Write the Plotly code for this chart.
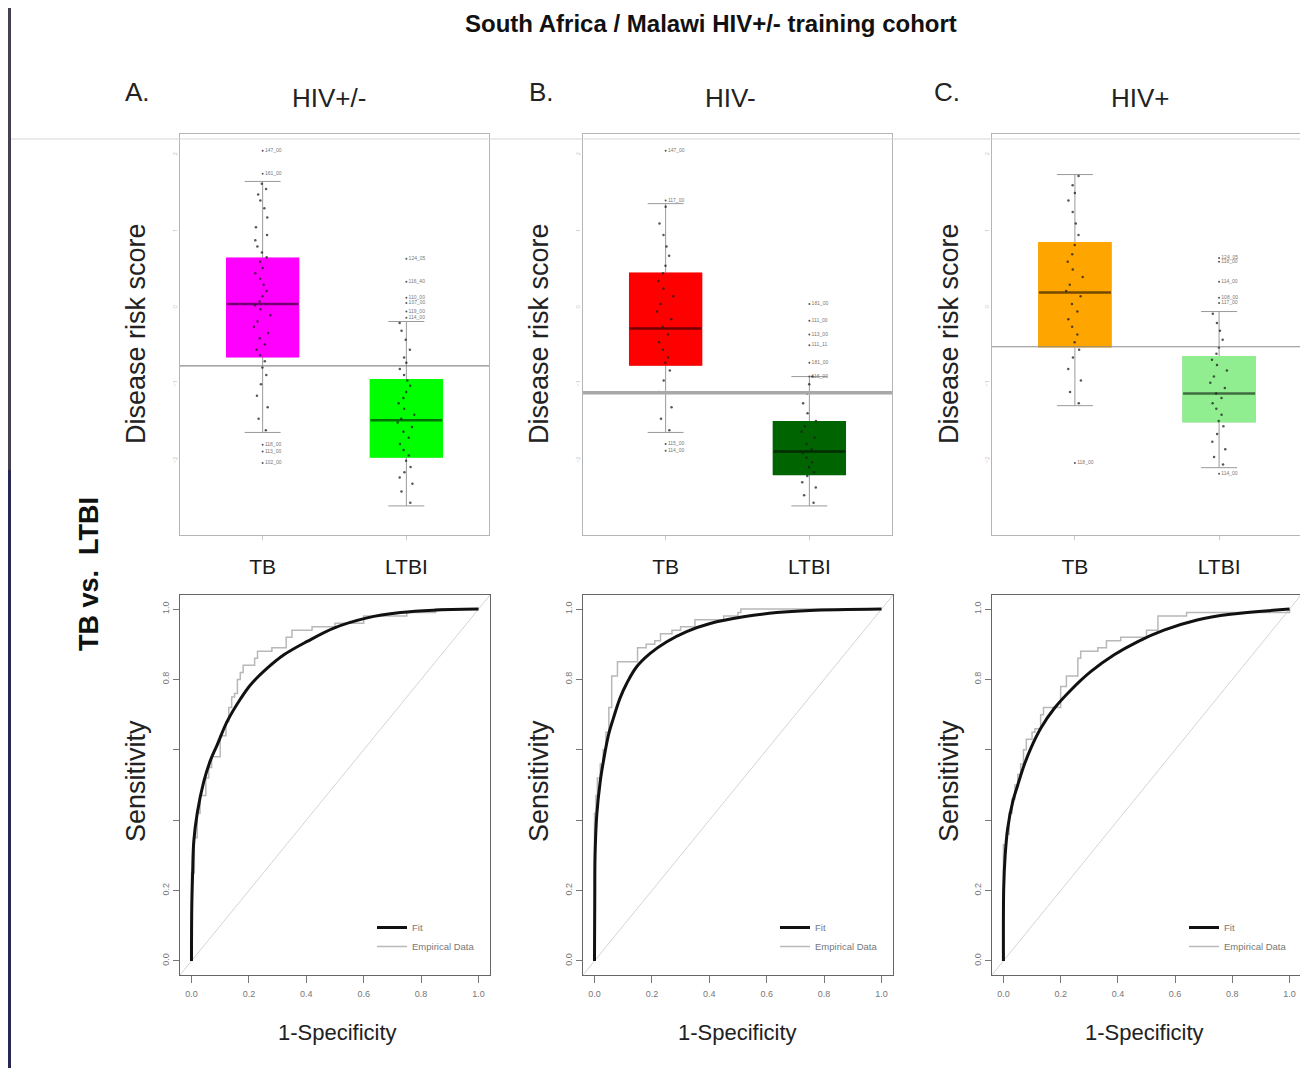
import plotly.graph_objects as go
from plotly.subplots import make_subplots

FONT = "Liberation Sans, Arial, sans-serif"

panel_letters = ["A.", "B.", "C."]
panel_titles = ["HIV+/-", "HIV-", "HIV+"]
groups = ["TB", "LTBI"]
group_pos = [1, 2]
box_colors = [["#FF00FF", "#00FF00"], ["#FF0000", "#006400"], ["#FFA500", "#90EE90"]]

# box stats per panel, [TB, LTBI]
q1 = [[-0.64, -1.95], [-0.75, -2.18], [-0.51, -1.49]]
medians = [[0.05, -1.47], [-0.27, -1.88], [0.20, -1.12]]
q3 = [[0.645, -0.94], [0.45, -1.49], [0.85, -0.64]]
lower_whisker = [[-1.63, -2.59], [-1.63, -2.59], [-1.28, -2.09]]
upper_whisker = [[1.65, -0.18], [1.36, -0.90], [1.74, -0.05]]
thresholds = [-0.76, -1.11, -0.51]

# individual scores (strip points) per panel, [TB, LTBI]
scores = [
    [[1.62, 1.55, 1.48, 1.40, 1.30, 1.18, 1.05, 0.95, 0.88, 0.80, 0.72, 0.66, 0.60, 0.52,
      0.45, 0.38, 0.30, 0.22, 0.15, 0.08, 0.03, -0.02, -0.10, -0.18, -0.25, -0.33, -0.40,
      -0.48, -0.55, -0.62, -0.70, -0.78, -0.88, -1.00, -1.15, -1.30, -1.45, -1.60],
     [-0.20, -0.30, -0.42, -0.55, -0.65, -0.72, -0.80, -0.88, -0.95, -1.02, -1.10, -1.18,
      -1.25, -1.32, -1.40, -1.45, -1.50, -1.56, -1.62, -1.70, -1.78, -1.86, -1.93, -2.00,
      -2.08, -2.15, -2.22, -2.30, -2.40, -2.55]],
    [[1.32, 1.10, 0.95, 0.80, 0.68, 0.55, 0.45, 0.35, 0.25, 0.15, 0.05, -0.05, -0.15, -0.25,
      -0.35, -0.45, -0.55, -0.65, -0.72, -0.82, -0.95, -1.10, -1.30, -1.45, -1.60],
     [-0.90, -1.00, -1.12, -1.25, -1.38, -1.48, -1.55, -1.62, -1.70, -1.78, -1.85, -1.90,
      -1.96, -2.02, -2.08, -2.15, -2.20, -2.28, -2.35, -2.45, -2.55]],
    [[1.72, 1.60, 1.50, 1.40, 1.25, 1.10, 0.95, 0.82, 0.70, 0.60, 0.50, 0.40, 0.30, 0.22,
      0.15, 0.05, -0.05, -0.15, -0.25, -0.35, -0.45, -0.55, -0.65, -0.80, -0.95, -1.10, -1.25],
     [-0.08, -0.20, -0.30, -0.42, -0.52, -0.60, -0.68, -0.75, -0.82, -0.90, -0.98, -1.05,
      -1.12, -1.18, -1.25, -1.32, -1.40, -1.48, -1.55, -1.65, -1.75, -1.85, -1.95, -2.05]],
]

outliers = [
    [[2.05, 1.75, -1.79, -1.88, -2.03], [0.64, 0.34, 0.13, 0.06, -0.05, -0.13]],
    [[2.05, 1.40, -1.78, -1.87], [0.05, -0.17, -0.35, -0.49, -0.72, -0.90]],
    [[-2.03], [0.65, 0.60, 0.34, 0.13, 0.06, -2.17]],
]
outlier_ids = [
    [["147_00", "161_00", "118_00", "113_00", "102_00"],
     ["124_05", "116_40", "110_00", "107_00", "119_00", "114_00"]],
    [["147_00", "117_00", "115_00", "114_00"],
     ["181_00", "111_00", "113_00", "111_11", "181_00", "116_00"]],
    [["118_00"],
     ["124_05", "118_00", "114_00", "108_00", "117_00", "114_00"]],
]

# ROC curves: binormal fit and empirical data
fit_fpr = [
    [0, 0.001, 0.004, 0.008, 0.02, 0.043, 0.066, 0.09, 0.124, 0.171, 0.206, 0.264, 0.322,
     0.403, 0.496, 0.612, 0.728, 0.843, 1.0],
    [0, 0.001, 0.002, 0.008, 0.02, 0.031, 0.049, 0.066, 0.089, 0.113, 0.147, 0.194, 0.252,
     0.321, 0.403, 0.519, 0.635, 0.75, 1.0],
    [0, 0.001, 0.006, 0.015, 0.033, 0.05, 0.073, 0.096, 0.131, 0.178, 0.236, 0.305, 0.387,
     0.468, 0.561, 0.677, 0.793, 1.0],
]
fit_tpr = [
    [0, 0.15, 0.25, 0.34, 0.42, 0.51, 0.57, 0.615, 0.68, 0.745, 0.785, 0.832, 0.87, 0.908,
     0.946, 0.975, 0.99, 0.997, 1.0],
    [0, 0.18, 0.30, 0.416, 0.51, 0.567, 0.643, 0.69, 0.747, 0.79, 0.836, 0.874, 0.907, 0.936,
     0.959, 0.978, 0.99, 0.996, 1.0],
    [0, 0.208, 0.30, 0.378, 0.454, 0.50, 0.558, 0.605, 0.662, 0.718, 0.77, 0.822, 0.87, 0.907,
     0.94, 0.969, 0.985, 1.0],
]
emp_fpr = [
    [0, 0, 0.01, 0.02, 0.03, 0.05, 0.06, 0.07, 0.10, 0.12, 0.13, 0.14, 0.15, 0.16, 0.17, 0.18,
     0.20, 0.22, 0.23, 0.26, 0.28, 0.32, 0.33, 0.35, 0.42, 0.50, 0.60, 0.75, 0.85, 1.0],
    [0, 0, 0.005, 0.01, 0.02, 0.03, 0.04, 0.05, 0.06, 0.075, 0.08, 0.13, 0.15, 0.17, 0.18,
     0.21, 0.23, 0.27, 0.30, 0.35, 0.45, 0.50, 0.51, 1.0],
    [0, 0, 0.01, 0.02, 0.03, 0.04, 0.05, 0.06, 0.07, 0.08, 0.10, 0.11, 0.13, 0.14, 0.17, 0.20,
     0.22, 0.25, 0.26, 0.27, 0.33, 0.36, 0.41, 0.50, 0.54, 0.64, 0.75, 1.0],
]
emp_tpr = [
    [0, 0.25, 0.35, 0.42, 0.47, 0.52, 0.55, 0.58, 0.64, 0.68, 0.72, 0.75, 0.76, 0.80, 0.82,
     0.84, 0.84, 0.86, 0.88, 0.88, 0.89, 0.89, 0.92, 0.94, 0.95, 0.96, 0.98, 0.99, 1.0, 1.0],
    [0, 0.42, 0.47, 0.52, 0.56, 0.60, 0.65, 0.72, 0.81, 0.81, 0.85, 0.85, 0.89, 0.89, 0.90,
     0.91, 0.93, 0.94, 0.95, 0.97, 0.98, 0.99, 1.0, 1.0],
    [0, 0.33, 0.36, 0.42, 0.46, 0.50, 0.53, 0.56, 0.60, 0.63, 0.65, 0.66, 0.70, 0.72, 0.72,
     0.78, 0.81, 0.81, 0.86, 0.88, 0.89, 0.91, 0.92, 0.94, 0.98, 0.99, 0.99, 1.0],
]
roc_ticks = [0, 0.2, 0.4, 0.6, 0.8, 1.0]
roc_x_labels = ["0.0", "0.2", "0.4", "0.6", "0.8", "1.0"]
roc_y_labels = ["0.0", "0.2", "", "", "0.8", "1.0"]
box_ticks = [-2, -1, 0, 1, 2]

# the page body adds an 8px margin, so the figure is 8px smaller than the window
W, H = 1300, 1060
OFF = 8
BOX_RANGE = [-2.97, 2.27]
BOX_XRANGE = [0.425, 2.575]
ROC_RANGE = [-0.04, 1.04]


def px(x):
    return (x - OFF) / W


def py(y):
    return 1 - (y - OFF) / H


def add_boxes(fig, p):
    col = p + 1
    for g in range(2):
        pos = group_pos[g]
        fill = box_colors[p][g]
        # whiskers
        fig.add_trace(go.Box(x=[pos], q1=[q1[p][g]], median=[medians[p][g]], q3=[q3[p][g]],
                             lowerfence=[lower_whisker[p][g]], upperfence=[upper_whisker[p][g]],
                             orientation="v", width=0.5, whiskerwidth=0.5, fillcolor=fill,
                             line=dict(color="#9a9a9a", width=1), showlegend=False,
                             hoverinfo="skip"), row=1, col=col)
        # box body
        fig.add_trace(go.Box(x=[pos], q1=[q1[p][g]], median=[medians[p][g]], q3=[q3[p][g]],
                             lowerfence=[q1[p][g]], upperfence=[q3[p][g]],
                             orientation="v", width=0.5, whiskerwidth=0, fillcolor=fill,
                             line=dict(color=fill, width=1.5), showlegend=False,
                             hoverinfo="skip"), row=1, col=col)
        # median
        m = medians[p][g]
        fig.add_trace(go.Box(x=[pos], q1=[m], median=[m], q3=[m], lowerfence=[m], upperfence=[m],
                             orientation="v", width=0.5, whiskerwidth=0,
                             fillcolor="rgba(0,0,0,0)",
                             line=dict(color="rgba(0,0,0,0.55)", width=2.5), showlegend=False,
                             hoverinfo="skip"), row=1, col=col)
        # individual points
        fig.add_trace(go.Box(x=[pos] * len(scores[p][g]), y=scores[p][g], orientation="v",
                             boxpoints="all", jitter=0.25, pointpos=0, width=0.5,
                             fillcolor="rgba(0,0,0,0)", line=dict(color="rgba(0,0,0,0)", width=0),
                             marker=dict(color="rgba(30,30,30,0.75)", size=2.5),
                             showlegend=False, hoverinfo="skip"), row=1, col=col)
        # outliers with sample labels
        fig.add_trace(go.Scatter(x=[pos] * len(outliers[p][g]), y=outliers[p][g],
                                 mode="markers+text", text=outlier_ids[p][g],
                                 textposition="middle right",
                                 textfont=dict(size=5, color="#777", family=FONT),
                                 marker=dict(size=2, color="#555"),
                                 showlegend=False, hoverinfo="skip"), row=1, col=col)
    # cut-off line
    fig.add_trace(go.Scatter(x=BOX_XRANGE, y=[thresholds[p]] * 2, mode="lines",
                             line=dict(color="#8c8c8c" if p != 1 else "#a8a8a8",
                                       width=1.2 if p != 1 else 3.5),
                             showlegend=False, hoverinfo="skip"), row=1, col=col)


def add_roc(fig, p):
    col = p + 1
    legend_name = "legend" if p == 0 else "legend%d" % (p + 1)
    fig.add_trace(go.Scatter(x=ROC_RANGE, y=ROC_RANGE, mode="lines",
                             line=dict(color="#d4d4d4", width=1), showlegend=False,
                             hoverinfo="skip"), row=2, col=col)
    fig.add_trace(go.Scatter(x=emp_fpr[p], y=emp_tpr[p], mode="lines", line_shape="hv",
                             line=dict(color="#b8b8b8", width=1.5), name="Empirical Data",
                             legend=legend_name, legendrank=2), row=2, col=col)
    fig.add_trace(go.Scatter(x=fit_fpr[p], y=fit_tpr[p], mode="lines", line_shape="spline",
                             line=dict(color="#111", width=3), name="Fit",
                             legend=legend_name, legendrank=1), row=2, col=col)


def generate_figure():
    fig = make_subplots(rows=2, cols=3)

    box_x_domains = [[px(180), px(489)], [px(583), px(892)], [px(992), px(1302)]]
    roc_x_domains = [[px(180), px(490)], [px(583), px(893)], [px(992), px(1301)]]

    for p in range(3):
        add_boxes(fig, p)
        add_roc(fig, p)

        fig.update_xaxes(domain=box_x_domains[p], range=BOX_XRANGE, tickvals=group_pos,
                         ticktext=groups, ticks="outside", ticklen=4, tickcolor="#c8c8c8",
                         ticklabelstandoff=9,
                         tickfont=dict(family=FONT, size=21, color="#1a1a1a"),
                         showline=True, mirror=True, linecolor="#b5b5b5", linewidth=1,
                         showgrid=False, zeroline=False, row=1, col=p + 1)
        fig.update_yaxes(domain=[py(535), py(134)], range=BOX_RANGE, tickvals=box_ticks,
                         ticks="", tickangle=-90, tickfont=dict(size=6, color="#bbb"),
                         showline=True, mirror=True, linecolor="#b5b5b5", linewidth=1,
                         showgrid=False, zeroline=False, row=1, col=p + 1)
        fig.update_xaxes(domain=roc_x_domains[p], range=ROC_RANGE, tickvals=roc_ticks,
                         ticktext=roc_x_labels, ticks="outside", ticklen=7, tickcolor="#777",
                         ticklabelstandoff=3,
                         tickfont=dict(family=FONT, size=9, color="#777"),
                         showline=True, mirror=True, linecolor="#666", linewidth=1.2,
                         showgrid=False, zeroline=False, row=2, col=p + 1)
        fig.update_yaxes(domain=[py(975), py(595)], range=ROC_RANGE, tickvals=roc_ticks,
                         ticktext=roc_y_labels, ticks="outside", ticklen=6, tickcolor="#777",
                         tickangle=-90, tickfont=dict(family=FONT, size=9, color="#777"),
                         showline=True, mirror=True, linecolor="#666", linewidth=1.2,
                         showgrid=False, zeroline=False, row=2, col=p + 1)

    annotations = [dict(text="<b>South Africa / Malawi HIV+/- training cohort</b>",
                        x=px(711), y=py(24), font=dict(family=FONT, size=24, color="#111")),
                   dict(text="<b>TB vs.  LTBI</b>", x=px(89), y=py(574), textangle=-90,
                        font=dict(family=FONT, size=27, color="#111"))]
    letter_x = [137, 541, 947]
    title_x = [329, 731, 1140]
    ylab_x = [136, 539, 949]
    roc_center_x = [337, 737, 1144]
    for p in range(3):
        annotations.append(dict(text=panel_letters[p], x=px(letter_x[p]), y=py(92),
                                font=dict(family=FONT, size=26, color="#222")))
        annotations.append(dict(text=panel_titles[p], x=px(title_x[p]), y=py(98),
                                font=dict(family=FONT, size=26, color="#222")))
        annotations.append(dict(text="Disease risk score", x=px(ylab_x[p]), y=py(334),
                                textangle=-90, font=dict(family=FONT, size=27, color="#222")))
        annotations.append(dict(text="Sensitivity", x=px(ylab_x[p]), y=py(781), textangle=-90,
                                font=dict(family=FONT, size=27, color="#222")))
        annotations.append(dict(text="1-Specificity", x=px(roc_center_x[p]), y=py(1032),
                                font=dict(family=FONT, size=22, color="#222")))
    for a in annotations:
        a.update(xref="paper", yref="paper", showarrow=False, xanchor="center", yanchor="middle")

    legend_style = dict(xanchor="left", yanchor="top", bgcolor="rgba(0,0,0,0)",
                        font=dict(family=FONT, size=9.5, color="#777"), itemwidth=30,
                        tracegroupgap=0, traceorder="normal")
    fig.update_layout(
        width=W, height=H,
        margin=dict(l=0, r=0, t=0, b=0),
        paper_bgcolor="white", plot_bgcolor="white",
        boxmode="overlay",
        showlegend=True,
        legend=dict(x=px(372), y=py(913), **legend_style),
        legend2=dict(x=px(775), y=py(913), **legend_style),
        legend3=dict(x=px(1184), y=py(913), **legend_style),
        annotations=annotations,
    )

    # slide frame: dark strip on the left and a thin grey rule under the headings
    fig.add_shape(type="rect", xref="paper", yref="paper", x0=px(OFF), x1=px(11),
                  y0=py(470), y1=1, fillcolor="#463f50", line_width=0)
    fig.add_shape(type="rect", xref="paper", yref="paper", x0=px(OFF), x1=px(11),
                  y0=0, y1=py(470), fillcolor="#262852", line_width=0)
    fig.add_shape(type="line", xref="paper", yref="paper", x0=px(11), x1=1,
                  y0=py(139), y1=py(139), line=dict(color="#d6d6d6", width=1))
    return fig


def main():
    fig = generate_figure()
    fig.write_html("out.html")


if __name__ == '__main__':
    main()
